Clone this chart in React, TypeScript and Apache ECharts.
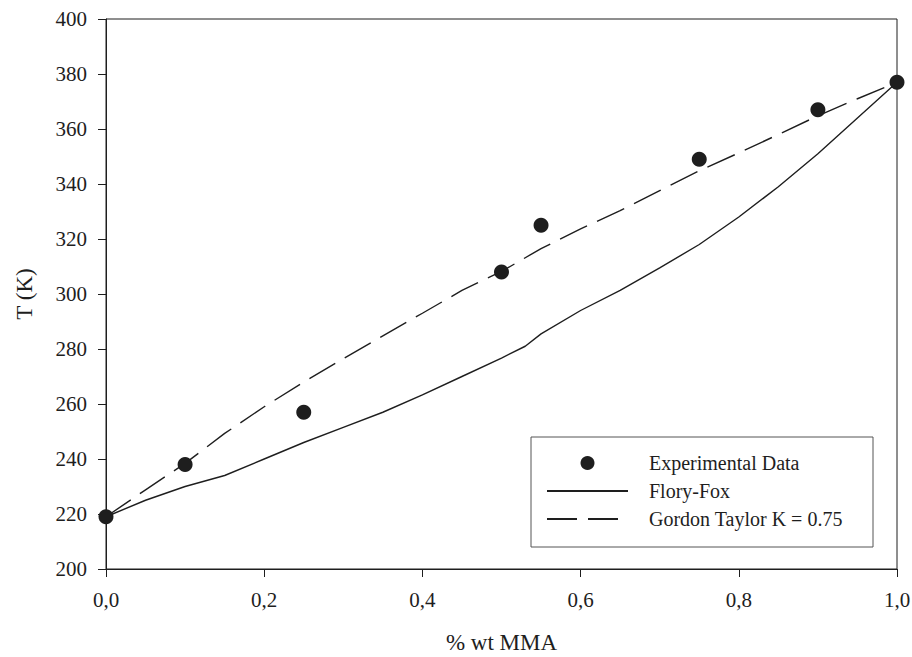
import React, { useEffect, useRef } from "react";
import * as echarts from "echarts";

const expX = [0, 0.1, 0.25, 0.5, 0.55, 0.75, 0.9, 1.0];
const expY = [219, 238, 257, 308, 325, 349, 367, 377];

const ffX = [0, 0.05, 0.1, 0.15, 0.2, 0.25, 0.3, 0.35, 0.4, 0.45, 0.5, 0.53, 0.55, 0.6, 0.65, 0.7, 0.75, 0.8, 0.85, 0.9, 0.95, 1.0];
const ffY = [219, 225, 230, 234, 240, 246, 251.5, 257, 263.3, 270, 276.7, 281, 285.5, 294, 301.3, 309.5, 318, 328, 339, 351, 364, 377];

const gtX = [0, 0.05, 0.1, 0.15, 0.2, 0.25, 0.3, 0.35, 0.4, 0.45, 0.5, 0.55, 0.6, 0.65, 0.7, 0.75, 0.8, 0.85, 0.9, 0.95, 1.0];
const gtY = [219, 228.8, 238.4, 249.3, 259, 268, 276.5, 284.8, 293, 301.3, 308.2, 316.5, 323.7, 330.3, 337.6, 344.8, 351.3, 358, 364.8, 371, 377];

const seriesNames = ["Experimental Data", "Flory-Fox", "Gordon Taylor K = 0.75"];
const xTitle = "% wt MMA";
const yTitle = "T (K)";

const FONT = "Liberation Serif";
const INK = "#1e1e1e";

export default function App() {
  const ref = useRef<HTMLDivElement>(null);
  useEffect(() => {
    if (!ref.current) return;
    const chart = echarts.init(ref.current, null, { renderer: "svg" });
    const zip = (xs: number[], ys: number[]) => xs.map((x, i) => [x, ys[i]]);
    chart.setOption({
      animation: false,
      backgroundColor: "#ffffff",
      textStyle: { fontFamily: FONT },
      grid: {
        left: 106,
        right: 15,
        top: 19,
        bottom: 88,
        outerBoundsMode: "none",
        show: true,
        borderColor: INK,
        borderWidth: 1,
        backgroundColor: "transparent",
      },
      xAxis: {
        type: "value",
        min: 0,
        max: 1,
        interval: 0.2,
        name: xTitle,
        nameLocation: "middle",
        nameGap: 62,
        nameTextStyle: { fontFamily: FONT, fontSize: 23, color: INK },
        axisLine: { show: true, lineStyle: { color: INK, width: 1 } },
        axisTick: { show: true, inside: false, length: 8, lineStyle: { color: INK } },
        axisLabel: {
          fontFamily: FONT,
          fontSize: 21,
          color: INK,
          margin: 20,
          formatter: (v: number) => v.toFixed(1).replace(".", ","),
        },
        splitLine: { show: false },
      },
      yAxis: {
        type: "value",
        min: 200,
        max: 400,
        interval: 20,
        name: yTitle,
        nameLocation: "middle",
        nameGap: 70,
        nameRotate: 90,
        nameTextStyle: { fontFamily: FONT, fontSize: 23, color: INK },
        axisLine: { show: true, lineStyle: { color: INK, width: 1 } },
        axisTick: { show: true, inside: false, length: 8, lineStyle: { color: INK } },
        axisLabel: { fontFamily: FONT, fontSize: 21, color: INK, margin: 19 },
        splitLine: { show: false },
      },
      graphic: [
        {
          type: "rect",
          shape: { x: 531, y: 437, width: 342, height: 110 },
          style: { fill: "#ffffff", stroke: "#555555", lineWidth: 1 },
          z: 0,
        },
      ],
      legend: {
        orient: "vertical",
        left: 546,
        top: 453,
        padding: 0,
        itemWidth: 81,
        itemHeight: 14,
        itemGap: 8,
        data: [
          { name: seriesNames[0] },
          { name: seriesNames[1], itemStyle: { opacity: 0 } },
          { name: seriesNames[2], itemStyle: { opacity: 0 } },
        ],
        textStyle: {
          fontFamily: FONT,
          fontSize: 20,
          color: INK,
          lineHeight: 20,
          padding: [0, 0, 0, 16],
        },
      },
      series: [
        {
          name: seriesNames[0],
          type: "scatter",
          data: zip(expX, expY),
          symbol: "circle",
          symbolSize: 15,
          itemStyle: { color: INK, opacity: 1 },
          z: 5,
        },
        {
          name: seriesNames[1],
          type: "line",
          data: zip(ffX, ffY),
          symbol: "none",
          showSymbol: false,
          itemStyle: { color: INK },
          lineStyle: { color: INK, width: 1.4, type: "solid" },
        },
        {
          name: seriesNames[2],
          type: "line",
          data: zip(gtX, gtY),
          symbol: "none",
          showSymbol: false,
          itemStyle: { color: INK },
          lineStyle: { color: INK, width: 1.4, type: [30, 11] },
        },
      ],
    });
    return () => chart.dispose();
  }, []);
  return <div ref={ref} style={{ width: 912, height: 657, position: "absolute", left: 0, top: 0 }} />;
}
